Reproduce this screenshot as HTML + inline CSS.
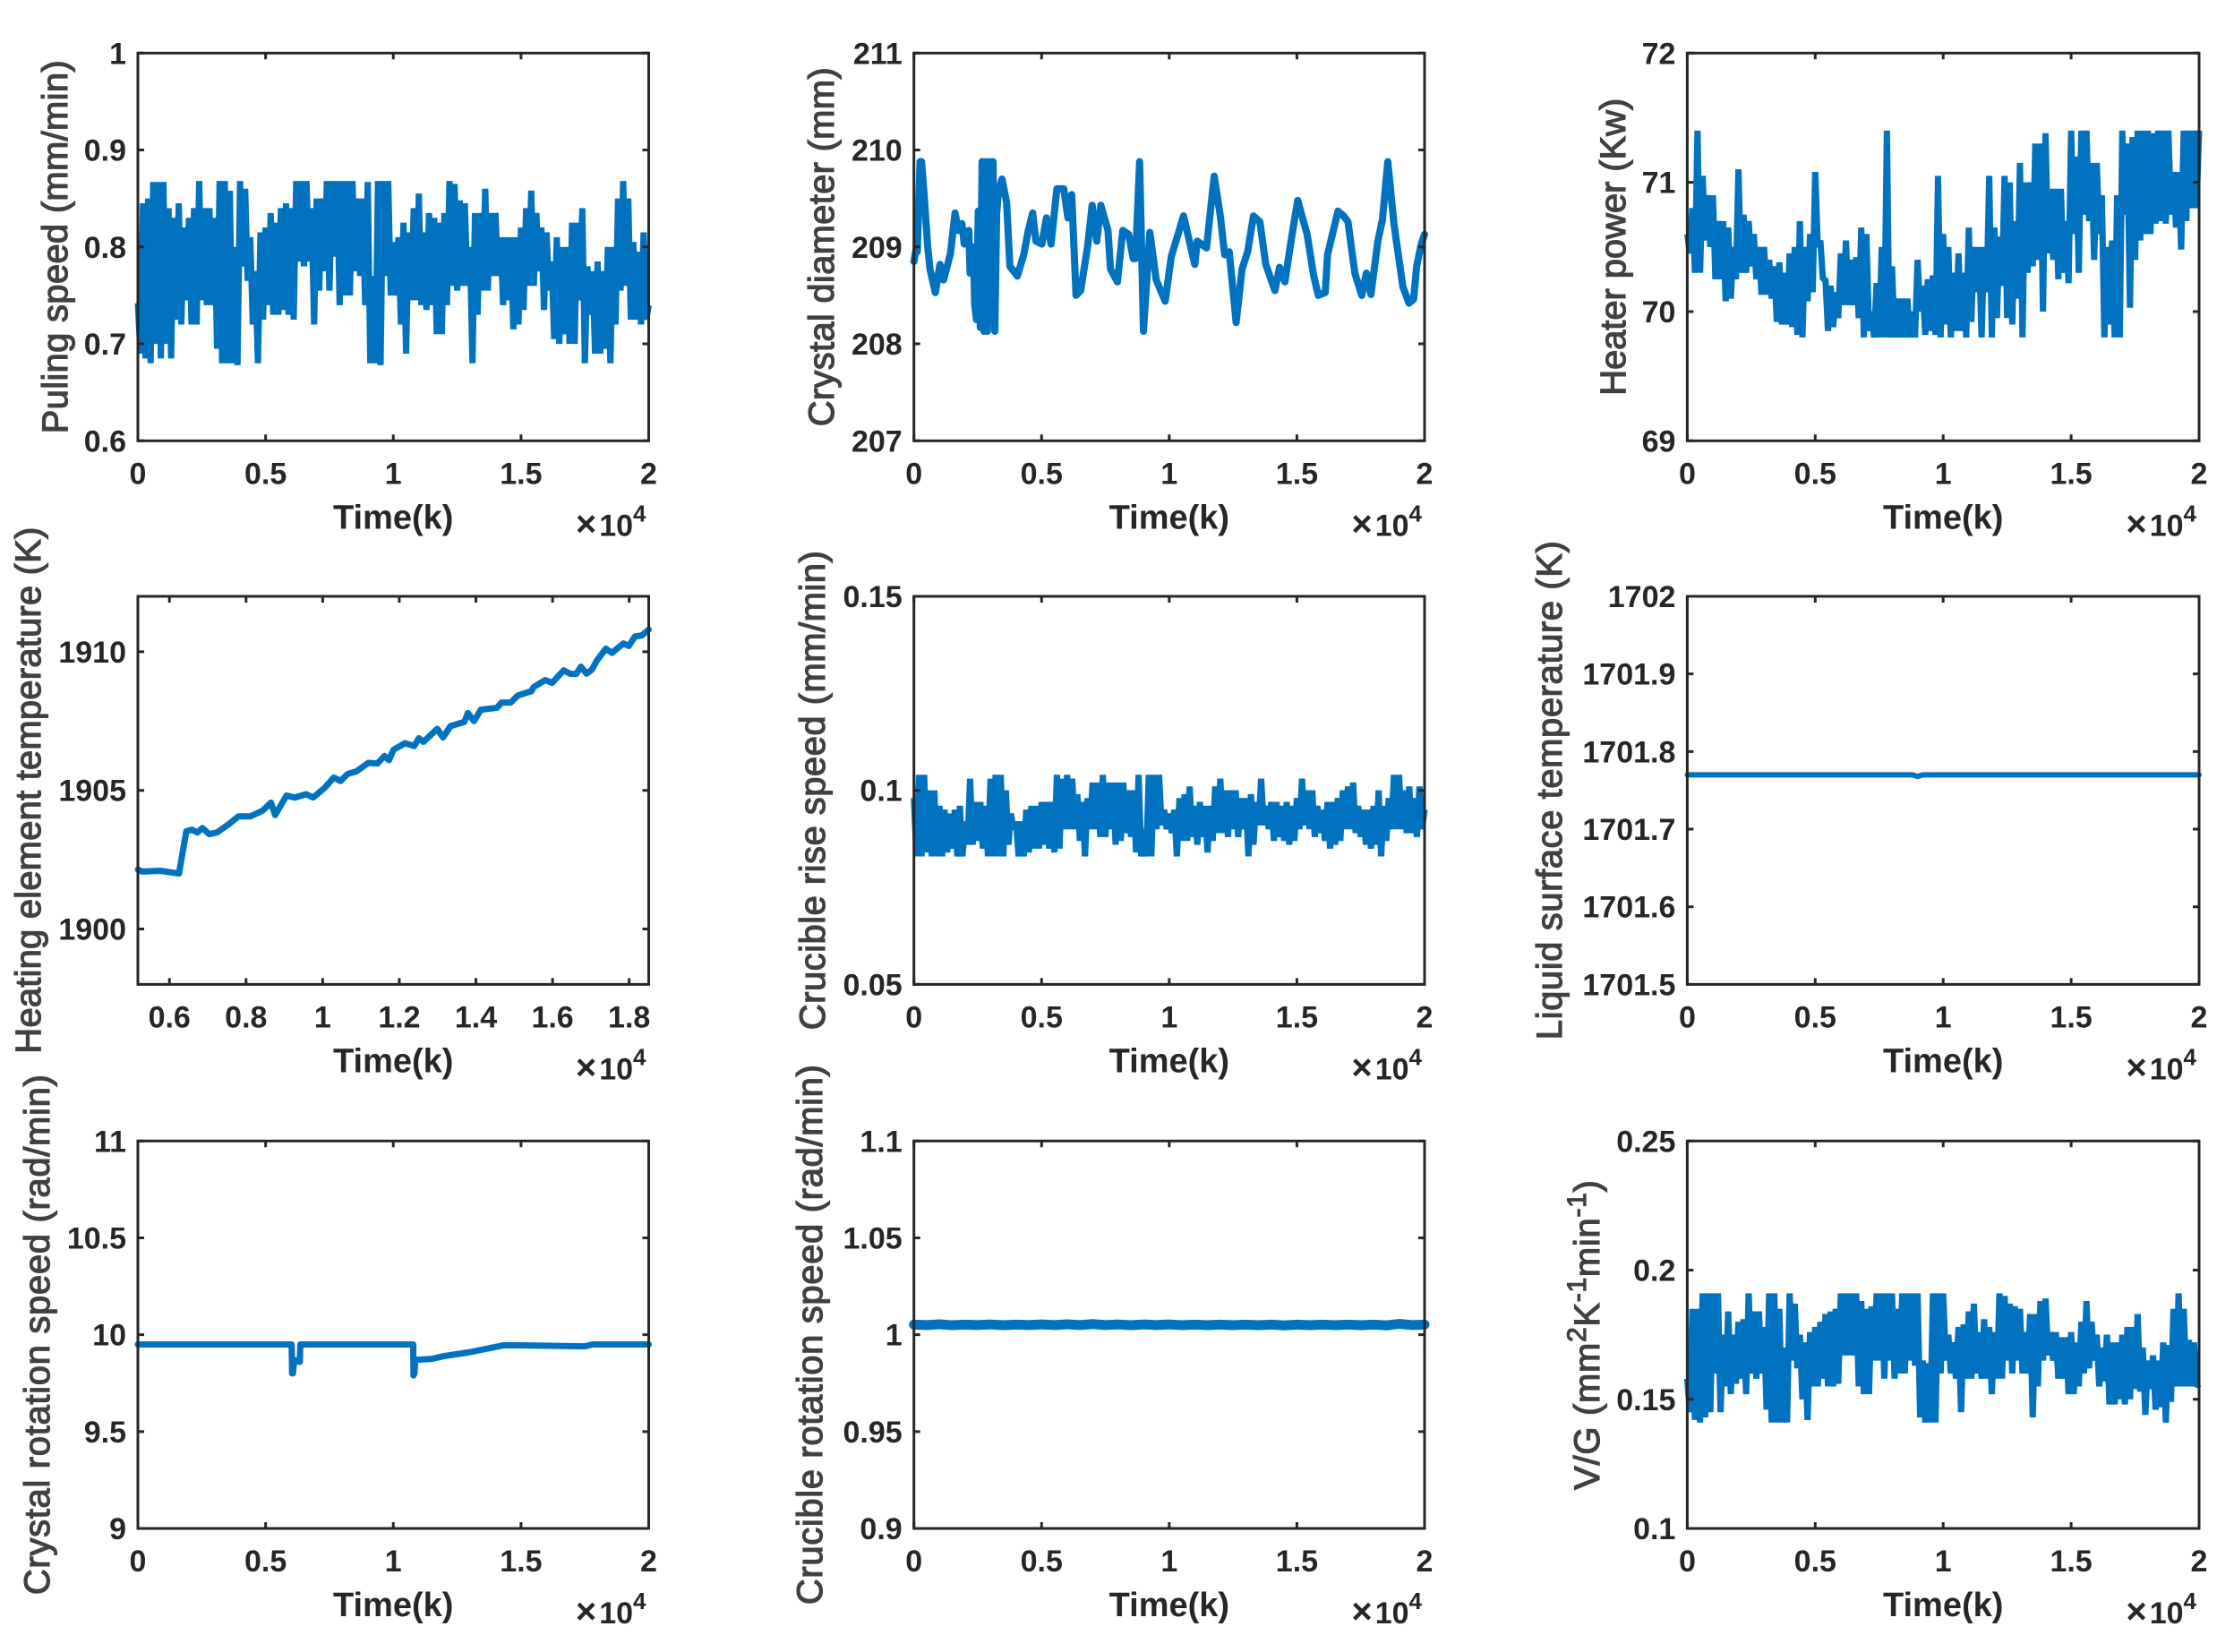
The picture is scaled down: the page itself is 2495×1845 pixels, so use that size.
<!DOCTYPE html>
<html lang="en">
<head>
<meta charset="utf-8">
<title>Crystal growth process variables</title>
<style>
html,body{margin:0;padding:0;background:#fff;}
svg{display:block;}
text{font-family:"Liberation Sans",Arial,sans-serif;}
.tick{font-size:34px;font-weight:bold;fill:#262626;}
.xt{font-size:38px;font-weight:bold;fill:#262626;}
.yt{font-size:40px;fill:#404040;stroke:#404040;stroke-width:1.2px;}
.mult{font-size:34px;font-weight:bold;fill:#262626;}
</style>
</head>
<body>
<svg id="figure" xmlns="http://www.w3.org/2000/svg" width="2495" height="1845" viewBox="0 0 2495 1845"></svg>
<script>
// Shared axis ticks
const timeTicks = [0, 5000, 10000, 15000, 20000];
const timeTickLabels = ['0', '0.5', '1', '1.5', '2'];
const heatingTimeTicks = [6000, 8000, 10000, 12000, 14000, 16000, 18000];
const heatingTimeTickLabels = ['0.6', '0.8', '1', '1.2', '1.4', '1.6', '1.8'];
const sampleStep = 100;

// Puling speed: alternating high/low samples every sampleStep
const pullingSpeed = [
.742,.69,.845,.685,.85,.68,.867,.70,.867,.685,.867,.70,.84,.685,.83,.725,.845,.72,.82,.745,
.83,.72,.84,.72,.868,.745,.84,.74,.84,.74,.83,.695,.868,.68,.868,.68,.858,.68,.80,.678,
.868,.78,.86,.765,.81,.72,.775,.68,.815,.725,.82,.74,.835,.73,.825,.73,.84,.735,.845,.73,
.84,.725,.868,.785,.868,.78,.868,.785,.84,.72,.85,.755,.85,.775,.868,.755,.868,.79,.868,.74,
.868,.75,.868,.75,.868,.775,.85,.77,.85,.74,.867,.68,.77,.68,.868,.678,.868,.77,.868,.75,
.805,.75,.81,.72,.825,.69,.815,.745,.84,.745,.855,.74,.815,.735,.835,.74,.83,.71,.825,.71,
.835,.74,.868,.76,.865,.755,.848,.76,.845,.76,.80,.68,.835,.73,.835,.755,.86,.755,.835,.77,
.835,.77,.81,.74,.81,.745,.81,.715,.81,.72,.82,.735,.84,.76,.858,.76,.835,.775,.82,.735,
.815,.755,.785,.705,.81,.70,.80,.71,.80,.70,.825,.70,.825,.745,.84,.68,.78,.73,.775,.69,
.785,.69,.775,.695,.80,.68,.80,.72,.85,.755,.868,.76,.85,.725,.805,.725,.795,.72,.815,.725,
.74];
const pullingSpeedTicks = [0.6, 0.7, 0.8, 0.9, 1];
const pullingSpeedTickLabels = ['0.6', '0.7', '0.8', '0.9', '1'];

// Crystal diameter
const diameterTime = [0,100,130,240,300,410,540,630,840,1020,1160,1430,1610,1740,1880,1970,2150,2200,2330,2380,2450,2520,2600,2670,2740,2810,2880,2950,3030,3100,3170,3240,3310,3450,3630,3760,4050,4300,4480,4650,4780,5010,5190,5370,5600,5870,6030,6180,6350,6530,6800,6980,7160,7320,7600,7700,7970,8180,8410,8590,8680,8840,8990,9240,9490,9840,10080,10560,11000,11100,11460,11760,12000,12170,12350,12620,12850,13070,13300,13550,13780,14140,14320,14530,14770,15030,15400,15660,15840,16110,16200,16610,16830,17000,17270,17540,17720,17900,18170,18350,18560,18800,19150,19390,19570,19690,19870,20000];
const diameterValues = [208.85,209.0,208.95,209.88,209.88,209.5,209.0,208.77,208.53,208.82,208.66,208.93,209.35,209.17,209.24,209.03,209.17,208.73,209.0,208.4,208.25,209.37,208.17,209.88,208.13,209.88,208.13,209.88,208.4,209.88,208.13,209.35,209.57,209.7,209.46,208.8,208.7,208.92,209.17,209.35,209.06,209.03,209.3,209.03,209.6,209.6,209.3,209.54,208.5,208.55,209,209.43,209.06,209.43,209.17,208.77,208.64,209.17,209.13,208.88,208.88,209.88,208.13,209.15,208.66,208.44,208.9,209.32,208.82,209.06,208.99,209.73,209.32,208.92,208.95,208.22,208.77,208.95,209.32,209.26,208.82,208.55,208.79,208.64,209.06,209.48,209.13,208.7,208.5,208.53,208.92,209.37,209.32,209.26,208.73,208.5,208.73,208.51,209.06,209.28,209.88,209.24,208.59,208.42,208.46,208.8,209.03,209.13];
const diameterTicks = [207, 208, 209, 210, 211];
const diameterTickLabels = ['207', '208', '209', '210', '211'];

// Heater power: alternating high/low samples
const heaterPower = [
70.6,70.45,70.8,70.3,71.4,70.3,71.05,70.55,70.9,70.5,70.9,70.25,70.7,70.25,70.7,70.08,70.65,70.1,70.5,70.25,
71.1,70.3,70.75,70.3,70.7,70.35,70.6,70.25,70.5,70.13,70.5,70.13,70.4,70.1,70.35,69.92,70.38,69.9,70.3,69.9,
70.45,69.88,70.5,69.82,70.7,69.8,70.5,70.08,70.6,70.15,71.08,70.5,70.55,70.25,70.25,69.85,70.2,69.88,70.15,69.95,
70.45,70.05,70.55,70.05,70.4,70.05,70.42,69.95,70.65,69.8,70.6,69.85,70.0,69.8,70.22,69.8,70.5,69.8,71.4,69.8,
70.35,69.8,70.1,69.8,70.1,69.8,70.1,69.8,70.0,69.8,70.4,70.0,70.2,69.82,70.25,69.85,70.28,69.82,71.05,69.8,
70.6,69.9,70.5,69.8,70.3,69.85,70.45,69.85,70.3,69.8,70.65,69.92,70.5,70.15,70.5,69.8,70.5,70.15,71.05,69.8,
70.65,69.95,70.58,70.2,71.05,69.95,71.0,69.9,70.7,70.1,71.15,69.8,71,70.3,71,70.35,71.3,70.4,71.3,70.0,
71.38,70.45,70.95,70.4,70.95,70.25,70.95,70.3,70.7,70.22,71.4,70.6,71.2,70.3,71.4,70.75,71.4,70.7,71.15,70.4,
71.15,70.6,70.9,69.8,70.5,69.9,70.55,69.8,70.9,69.8,71.4,70.75,71.3,70.03,71.35,70.4,71.4,70.55,71.4,70.6,
71.4,70.6,71.38,70.68,71.4,70.7,71.4,70.68,71.4,70.75,71.08,70.65,71.08,70.48,71.4,70.7,71.4,70.8,71.4,70.8,
71.4];
const heaterPowerTicks = [69, 70, 71, 72];
const heaterPowerTickLabels = ['69', '70', '71', '72'];

// Heating element temperature
const heatingTime = [5177,5296,5750,6250,6440,6585,6728,6860,7040,7240,7540,7800,8110,8435,8650,8760,9055,9270,9570,9750,10050,10290,10470,10650,10890,11190,11430,11610,11730,11850,12150,12390,12510,12630,12990,13140,13340,13700,13790,13950,14130,14550,14670,14910,15090,15450,15510,15810,15990,16290,16470,16620,16740,16890,17030,17150,17390,17550,17850,17990,18150,18330,18510];
const heatingValues = [1902.14,1902.07,1902.1,1902.0,1903.52,1903.58,1903.48,1903.64,1903.42,1903.48,1903.77,1904.06,1904.06,1904.27,1904.56,1904.11,1904.81,1904.74,1904.86,1904.74,1905.09,1905.46,1905.34,1905.59,1905.69,1905.99,1905.97,1906.24,1906.09,1906.47,1906.7,1906.6,1906.88,1906.75,1907.22,1906.91,1907.32,1907.47,1907.79,1907.5,1907.91,1907.98,1908.17,1908.17,1908.42,1908.58,1908.73,1908.98,1908.88,1909.33,1909.2,1909.2,1909.46,1909.21,1909.36,1909.67,1910.11,1909.96,1910.3,1910.21,1910.55,1910.59,1910.8];
const heatingTicks = [1900, 1905, 1910];
const heatingTickLabels = ['1900', '1905', '1910'];

// Crucible rise speed: alternating high/low samples
const crucibleRise = [
.098,.083,.104,.083,.104,.084,.1,.083,.1,.083,.096,.083,.095,.084,.094,.085,.095,.083,.096,.083,
.092,.086,.103,.086,.097,.087,.097,.085,.096,.083,.103,.083,.104,.083,.104,.083,.1,.086,.094,.09,
.092,.083,.092,.083,.095,.084,.096,.085,.096,.085,.097,.086,.097,.085,.097,.084,.104,.085,.103,.09,
.104,.09,.103,.09,.099,.087,.097,.083,.098,.09,.102,.09,.102,.088,.104,.088,.102,.09,.102,.086,
.102,.087,.102,.089,.1,.088,.1,.084,.104,.083,.09,.083,.104,.083,.104,.09,.104,.091,.095,.09,
.094,.089,.095,.083,.098,.087,.099,.087,.101,.088,.096,.086,.097,.088,.096,.084,.096,.087,.101,.089,
.103,.089,.1,.088,.1,.09,.1,.088,.098,.09,.098,.083,.099,.086,.097,.091,.103,.091,.096,.09,
.097,.087,.097,.088,.096,.087,.097,.086,.096,.087,.098,.09,.103,.091,.1,.09,.1,.088,.096,.089,
.095,.087,.097,.085,.097,.086,.098,.087,.1,.09,.101,.09,.102,.089,.096,.088,.095,.086,.095,.085,
.096,.086,.1,.083,.096,.087,.098,.09,.104,.09,.104,.09,.1,.089,.101,.089,.098,.088,.101,.09,
.095];
const crucibleRiseTicks = [0.05, 0.1, 0.15];
const crucibleRiseTickLabels = ['0.05', '0.1', '0.15'];

// Liquid surface temperature
const surfaceTime = [0, 8800, 9000, 9200, 20000];
const surfaceValues = [1701.77, 1701.77, 1701.768, 1701.77, 1701.77];
const surfaceTicks = [1701.5, 1701.6, 1701.7, 1701.8, 1701.9, 1702];
const surfaceTickLabels = ['1701.5', '1701.6', '1701.7', '1701.8', '1701.9', '1702'];

// Crystal rotation speed
const rotationTime = [0,6020,6040,6070,6120,6340,6360,10780,10790,10830,10860,11500,12000,13000,14300,15000,17500,17800,20000];
const rotationValues = [9.95,9.95,9.8,9.8,9.87,9.86,9.95,9.95,9.79,9.8,9.87,9.875,9.89,9.91,9.945,9.945,9.94,9.95,9.95];
const rotationTicks = [9, 9.5, 10, 10.5, 11];
const rotationTickLabels = ['9', '9.5', '10', '10.5', '11'];

// Crucible rotation speed
const crucibleRotTime = [0,500,1000,1500,2000,2500,3000,3500,4000,4500,5000,5500,6000,6500,7000,7500,8000,8500,9000,9500,10000,10500,11000,11500,12000,12500,13000,13500,14000,14500,15000,15500,16000,16500,17000,17500,18000,18500,19000,19500,20000];
const crucibleRotValues = [1.0052,1.005,1.0054,1.0049,1.0052,1.005,1.0053,1.0049,1.0052,1.005,1.0053,1.005,1.0054,1.005,1.0055,1.005,1.0053,1.0049,1.0053,1.005,1.0053,1.0049,1.0052,1.0049,1.0052,1.0049,1.0052,1.0049,1.0052,1.0048,1.0052,1.0049,1.0052,1.0049,1.0052,1.0049,1.0052,1.0048,1.0056,1.005,1.0052];
const crucibleRotTicks = [0.9, 0.95, 1, 1.05, 1.1];
const crucibleRotTickLabels = ['0.9', '0.95', '1', '1.05', '1.1'];

// V/G: alternating high/low samples
const vgRatio = [
.158,.145,.185,.142,.185,.141,.191,.143,.191,.145,.191,.16,.191,.145,.175,.155,.184,.152,.175,.156,
.18,.158,.181,.152,.191,.16,.184,.158,.184,.16,.178,.146,.191,.141,.191,.141,.185,.141,.17,.141,
.191,.165,.187,.162,.175,.15,.172,.142,.176,.155,.178,.155,.18,.158,.183,.155,.184,.155,.185,.156,
.191,.167,.191,.167,.191,.167,.191,.155,.188,.152,.185,.152,.186,.165,.191,.165,.191,.158,.191,.165,
.191,.158,.185,.16,.191,.16,.191,.165,.191,.163,.191,.143,.165,.141,.164,.141,.191,.141,.191,.16,
.191,.165,.175,.16,.172,.158,.178,.145,.179,.158,.184,.158,.187,.16,.176,.158,.181,.158,.178,.152,
.176,.158,.191,.158,.19,.165,.187,.16,.186,.165,.185,.16,.176,.16,.183,.143,.183,.155,.188,.165,
.189,.167,.176,.165,.176,.158,.174,.158,.174,.152,.176,.152,.172,.155,.18,.16,.188,.162,.18,.165,
.175,.155,.17,.157,.175,.148,.172,.148,.172,.15,.175,.148,.178,.15,.178,.154,.183,.153,.17,.144,
.165,.154,.167,.146,.165,.147,.172,.141,.171,.149,.185,.155,.191,.155,.185,.155,.173,.155,.172,.155,
.156];
const vgTicks = [0.1, 0.15, 0.2, 0.25];
const vgTickLabels = ['0.1', '0.15', '0.2', '0.25'];

function sampled(values) { return values.map(function (v, i) { return i * sampleStep; }); }

const NS = 'http://www.w3.org/2000/svg';
const COL = [[154, 724.5], [1020.7, 1591], [1884.4, 2456]];
const ROW = [[59.3, 492.3], [666, 1099.4], [1274.3, 1707]];
const LINE = '#0072bf', INK = '#262626';

const panels = [
 {id:'puling-speed', c:0, r:0, xs:sampled(pullingSpeed), ys:pullingSpeed, xr:[0,20000], yr:[0.6,1], yt:pullingSpeedTicks, yl:pullingSpeedTickLabels, label:['Puling speed (mm/min)'], lx:75, ln:417, sw:7, dense:true},
 {id:'crystal-diameter', c:1, r:0, xs:diameterTime, ys:diameterValues, xr:[0,20000], yr:[207,211], yt:diameterTicks, yl:diameterTickLabels, label:['Crystal diameter (mm)'], lx:931, ln:401, sw:8},
 {id:'heater-power', c:2, r:0, xs:sampled(heaterPower), ys:heaterPower, xr:[0,20000], yr:[69,72], yt:heaterPowerTicks, yl:heaterPowerTickLabels, label:['Heater power (Kw)'], lx:1815, ln:332, sw:7, dense:true},
 {id:'heating-temperature', c:0, r:1, xs:heatingTime, ys:heatingValues, xr:[5177,18510], yr:[1898,1912], xt:heatingTimeTicks, xl:heatingTimeTickLabels, yt:heatingTicks, yl:heatingTickLabels, label:['Heating element temperature (K)'], lx:45, ln:588, sw:7},
 {id:'crucible-rise', c:1, r:1, xs:sampled(crucibleRise), ys:crucibleRise, xr:[0,20000], yr:[0.05,0.15], yt:crucibleRiseTicks, yl:crucibleRiseTickLabels, label:['Crucible rise speed (mm/min)'], lx:921, ln:535, sw:7, dense:true},
 {id:'surface-temperature', c:2, r:1, xs:surfaceTime, ys:surfaceValues, xr:[0,20000], yr:[1701.5,1702], yt:surfaceTicks, yl:surfaceTickLabels, label:['Liquid surface temperature (K)'], lx:1744, ln:557, sw:6},
 {id:'crystal-rotation', c:0, r:2, xs:rotationTime, ys:rotationValues, xr:[0,20000], yr:[9,11], yt:rotationTicks, yl:rotationTickLabels, label:['Crystal rotation speed (rad/min)'], lx:55, ln:581, sw:7},
 {id:'crucible-rotation', c:1, r:2, xs:crucibleRotTime, ys:crucibleRotValues, xr:[0,20000], yr:[0.9,1.1], yt:crucibleRotTicks, yl:crucibleRotTickLabels, label:['Crucible rotation speed (rad/min)'], lx:918, ln:603, sw:11},
 {id:'vg-ratio', c:2, r:2, xs:sampled(vgRatio), ys:vgRatio, xr:[0,20000], yr:[0.1,0.25], yt:vgTicks, yl:vgTickLabels, label:null, lx:1786, ln:0, sw:7, dense:true}
];

const root = document.getElementById('figure');

function make(tag, parent, attrs, txt) {
  const el = document.createElementNS(NS, tag);
  Object.keys(attrs).forEach(function (k) { el.setAttribute(k, attrs[k]); });
  if (txt !== undefined) el.textContent = txt;
  parent.appendChild(el);
  return el;
}

panels.forEach(function (p) {
  const L = COL[p.c][0], R = COL[p.c][1], T = ROW[p.r][0], B = ROW[p.r][1];
  const xScale = function (v) { return L + (v - p.xr[0]) / (p.xr[1] - p.xr[0]) * (R - L); };
  const yScale = function (v) { return B - (v - p.yr[0]) / (p.yr[1] - p.yr[0]) * (B - T); };
  const xt = p.xt || timeTicks, xl = p.xl || timeTickLabels;

  const g = make('g', root, {});
  
  

  const line = make('polyline', g, {
    points: p.xs.map(function (x, i) { return xScale(x).toFixed(2) + ',' + yScale(p.ys[i]).toFixed(2); }).join(' '),
    fill: 'none', stroke: LINE, 'stroke-width': p.sw,
    'stroke-linejoin': p.dense ? 'bevel' : 'round',
    'stroke-linecap': p.dense ? 'butt' : 'round'
  });
  
  

  const frame = make('rect', g, {x: L, y: T, width: R - L, height: B - T, fill: 'none', stroke: INK, 'stroke-width': 3});
  
  

  xt.forEach(function (v, i) {
    const x = xScale(v);
    const t1 = make('path', g, {d: 'M' + x + ' ' + B + 'v-7M' + x + ' ' + T + 'v7', stroke: INK, 'stroke-width': 3, fill: 'none'});
    
    
    const lb = make('text', g, {x: x, y: B + 48, 'text-anchor': 'middle', 'class': 'tick'}, xl[i]);
    
    
  });

  p.yt.forEach(function (v, i) {
    const y = yScale(v);
    const t2 = make('path', g, {d: 'M' + L + ' ' + y + 'h7M' + R + ' ' + y + 'h-7', stroke: INK, 'stroke-width': 3, fill: 'none'});
    
    
    const lb2 = make('text', g, {x: L - 13, y: y + 12, 'text-anchor': 'end', 'class': 'tick'}, p.yl[i]);
    
    
  });

  const xTitle = make('text', g, {x: (L + R) / 2, y: B + 98, 'text-anchor': 'middle', 'class': 'xt'}, 'Time(k)');
  
  

  const mult = make('text', g, {x: R - 3, y: B + 106, 'text-anchor': 'end', 'class': 'mult'});
  
  
  make('tspan', mult, {'font-size': 40, dx: 0}, '×');
  make('tspan', mult, {dx: 3}, '10');
  make('tspan', mult, {'font-size': 26, dy: -16}, '4');

  const cy = (T + B) / 2;
  const yTitle = make('text', g, {
    x: p.lx, y: cy, 'text-anchor': 'middle', 'class': 'yt',
    transform: 'rotate(-90 ' + p.lx + ' ' + cy + ')'
  });
  
  
  if (p.label) {
    yTitle.textContent = p.label[0];
    yTitle.setAttribute('textLength', p.ln);
    yTitle.setAttribute('lengthAdjust', 'spacing');
  } else {
    yTitle.setAttribute('letter-spacing', '0.7');
    make('tspan', yTitle, {}, 'V/G (mm');
    make('tspan', yTitle, {'font-size': 30, dy: -15}, '2');
    make('tspan', yTitle, {dy: 15}, 'K');
    make('tspan', yTitle, {'font-size': 30, dy: -15}, '-1');
    make('tspan', yTitle, {dy: 15}, 'min');
    make('tspan', yTitle, {'font-size': 30, dy: -15}, '-1');
    make('tspan', yTitle, {dy: 15}, ')');
  }
});
</script>
</body>
</html>
